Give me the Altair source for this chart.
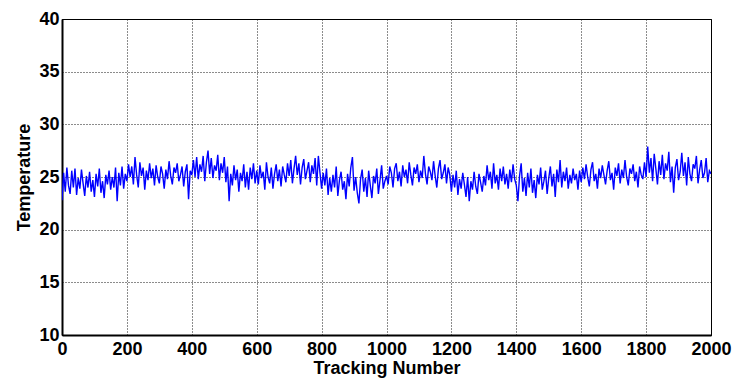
import altair as alt
import pandas as pd

STEP = 5
s0 = [22.8, 25.4, 23.6, 25.9, 24.2, 23.4, 25.6, 24.0, 25.8, 23.3, 24.9, 23.9, 25.7, 24.4, 23.2, 25.1, 24.0, 25.5, 23.6, 24.7,
      23.1, 25.3, 24.1, 25.8, 23.5, 24.6, 23.0, 25.2, 24.3, 25.6, 23.8, 25.0, 24.0, 25.9, 22.7, 25.4, 24.2, 26.0, 23.9, 25.3]
s1 = [24.6, 26.2, 25.0, 26.0, 24.3, 26.9, 25.2, 24.0, 26.4, 25.1, 25.9, 23.8, 25.6, 24.7, 26.3, 24.9, 25.8, 24.2, 26.1, 25.0,
      24.4, 26.0, 25.3, 23.9, 25.7, 24.8, 26.5, 25.1, 24.3, 25.9, 25.4, 26.3, 24.6, 25.2, 26.0, 24.1, 25.5, 26.2, 22.9, 25.6]
s2 = [25.2, 26.6, 25.0, 26.9, 24.8, 26.2, 25.5, 27.0, 24.6, 26.4, 27.5, 25.3, 26.8, 24.9, 26.1, 25.6, 27.1, 24.7, 26.3, 25.4,
      26.9, 24.5, 26.0, 22.7, 25.3, 24.2, 26.1, 24.7, 25.7, 23.6, 25.4, 24.6, 26.2, 24.0, 25.5, 23.8, 25.9, 24.8, 26.3, 24.4]
s3 = [25.6, 24.3, 26.1, 24.9, 25.5, 23.8, 26.4, 25.0, 24.4, 25.9, 23.9, 25.3, 26.2, 24.6, 25.7, 24.1, 26.0, 25.2, 24.5, 26.3,
      25.1, 26.6, 24.4, 25.8, 27.0, 25.2, 26.3, 24.3, 25.9, 26.7, 24.8, 25.6, 26.4, 24.5, 26.1, 25.3, 26.8, 24.2, 27.0, 25.4]
s4 = [23.9, 25.4, 24.2, 25.8, 23.3, 24.9, 23.6, 25.2, 24.0, 26.0, 23.2, 24.7, 25.5, 23.8, 24.6, 22.9, 25.3, 24.1, 25.9, 26.9,
      23.7, 25.0, 23.5, 22.5, 24.8, 25.7, 23.6, 24.9, 23.1, 25.6, 24.2, 23.0, 25.1, 24.4, 25.8, 23.4, 24.7, 26.1, 23.9, 24.6]
s5 = [25.1, 24.3, 26.0, 25.4, 24.0, 25.8, 26.3, 24.6, 25.5, 24.1, 26.1, 25.0, 25.7, 24.4, 26.4, 25.2, 24.2, 25.9, 25.3, 26.2,
      24.5, 25.6, 24.9, 27.0, 25.3, 24.3, 26.0, 25.5, 24.7, 26.5, 25.1, 24.0, 25.8, 26.6, 24.8, 25.4, 26.2, 24.4, 25.9, 25.2]
s6 = [23.6, 25.2, 24.0, 25.6, 23.3, 24.8, 23.9, 25.4, 24.3, 23.1, 25.0, 22.7, 24.6, 23.8, 25.5, 24.1, 23.4, 25.3, 24.5, 23.6,
      25.1, 24.2, 26.1, 24.7, 25.5, 23.9, 26.3, 24.4, 25.2, 23.8, 25.8, 24.6, 26.0, 24.3, 25.3, 23.9, 25.7, 24.5, 26.2, 24.8]
s7 = [24.2, 22.7, 25.1, 26.3, 23.6, 24.9, 23.2, 25.4, 24.0, 25.8, 23.5, 24.7, 23.0, 25.2, 24.3, 25.9, 23.8, 24.6, 25.6, 23.4,
      24.9, 26.0, 24.1, 25.3, 23.1, 25.7, 24.5, 26.6, 24.0, 25.5, 24.6, 25.9, 23.9, 25.2, 24.4, 25.8, 24.7, 25.3, 23.8, 25.6]
s8 = [24.5, 25.9, 24.8, 26.2, 25.0, 24.1, 25.7, 26.4, 24.6, 25.3, 23.9, 25.8, 24.9, 26.1, 25.2, 24.3, 25.6, 26.5, 24.7, 25.4,
      23.8, 25.9, 25.1, 26.3, 24.4, 25.7, 24.9, 26.6, 25.0, 24.2, 25.8, 25.3, 26.2, 24.6, 25.5, 24.0, 26.0, 25.2, 24.8, 26.4]
s9 = [25.0, 27.9, 25.4, 26.8, 24.6, 27.2, 25.8, 24.3, 26.5, 25.2, 27.1, 24.8, 26.3, 25.6, 27.4, 24.5, 26.0, 23.5, 25.9, 26.7,
      24.7, 25.5, 27.3, 25.1, 26.4, 24.2, 26.9, 25.3, 24.6, 26.2, 25.8, 27.0, 24.4, 25.7, 26.6, 24.9, 25.4, 26.8, 24.5, 25.6, 25.3]

temps = s0 + s1 + s2 + s3 + s4 + s5 + s6 + s7 + s8 + s9
tracking = [i * STEP for i in range(len(temps))]
x_ticks = [0, 200, 400, 600, 800, 1000, 1200, 1400, 1600, 1800, 2000]
y_ticks = [10, 15, 20, 25, 30, 35, 40]

df = pd.DataFrame({"Tracking Number": tracking, "Temperature": temps})

FONT = "Arial"

common = dict(labelFontSize=18, labelFontWeight="bold", titleFontSize=18, titleFontWeight="bold",
              grid=True, gridDash=[1, 2], gridColor="#000000", gridOpacity=0.9, gridWidth=1,
              domainColor="#000000", domainWidth=2, tickSize=0, labelColor="#000000",
              titleColor="#000000", labelFlush=False, labelFont=FONT, titleFont=FONT,
              format="d", labelOverlap=False)

chart = alt.Chart(df).mark_line(color="#0000ff", strokeWidth=1.4, clip=True).encode(
    x=alt.X("Tracking Number:Q",
            scale=alt.Scale(domain=[0, 2000], nice=False, zero=False),
            axis=alt.Axis(values=x_ticks, title="Tracking Number", labelPadding=5, titlePadding=1, **common)),
    y=alt.Y("Temperature:Q",
            scale=alt.Scale(domain=[10, 40], nice=False, zero=False),
            axis=alt.Axis(values=y_ticks, title="Temperature", labelPadding=3, titlePadding=5, **common)),
).properties(
    width=649, height=316,
    autosize=alt.AutoSizeParams(type="none"),
    padding={"left": 62, "top": 19, "right": 23, "bottom": 50},
    background="#ffffff",
).configure_view(stroke="#000000", strokeWidth=1)

chart.save("out.html", embed_options={"renderer": "svg", "actions": False})
